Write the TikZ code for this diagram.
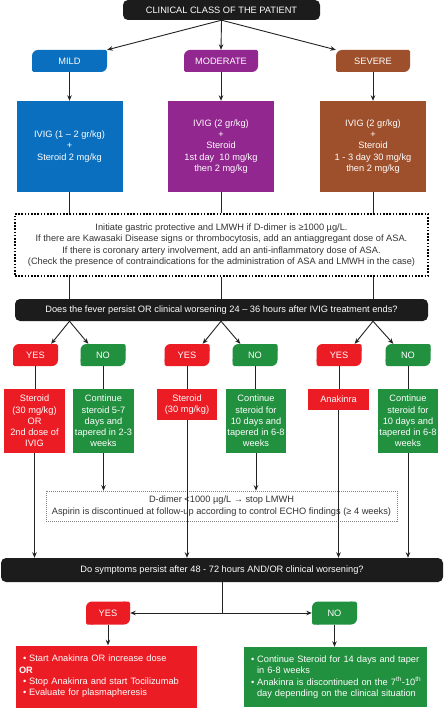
\documentclass[tikz,border=0pt]{standalone}
\usepackage{fontspec}
\setmainfont{Liberation Sans}
\usetikzlibrary{arrows.meta,calc}
\definecolor{cblue}{HTML}{0A6FBE}
\definecolor{cpurple}{HTML}{92278F}
\definecolor{cbrown}{HTML}{9E4F2B}
\definecolor{cred}{HTML}{EC1C24}
\definecolor{cgreen}{HTML}{21903F}
\definecolor{dk}{HTML}{1C1C1C}
\definecolor{lc}{HTML}{222222}
\definecolor{tx}{HTML}{333333}
\newcommand\leafbox[7]{%
  \fill[#6,rounded corners=6pt] ({#2-#4/2},{#3-#5/2}) rectangle ({#2+#4/2},{#3+#5/2});
  \fill[#6,rounded corners=1.5pt] ({#2+#4/2-8},{#3-#5/2}) rectangle ({#2+#4/2},{#3-#5/2+8});
  \fill[#6,rounded corners=1.5pt] ({#2-#4/2},{#3+#5/2-8}) rectangle ({#2-#4/2+8},{#3+#5/2});
  \node[leaflbl,minimum width=#4pt,minimum height=#5pt] (#1) at (#2,#3) {#7};}
\tikzset{
  ln/.style={draw=lc, line width=0.9pt},
  arr/.style={ln, -{Stealth[length=5.5pt,width=4.5pt]}},
  darkbox/.style={fill=dk, rounded corners=5pt, text=white, inner sep=0pt, align=center},
  colbox/.style={text=white, align=center, inner sep=0pt},
  leaflbl/.style={text=white, inner sep=0pt},
  dotbox/.style={draw=black, line width=1.6pt, dash pattern=on 1.6pt off 1.6pt, text=tx, align=center, inner sep=0pt},
  dashbox/.style={draw=gray, line width=0.6pt, dash pattern=on 1pt off 1pt, text=tx, align=center, inner sep=0pt},
  listbox/.style={text=white, align=left, inner ysep=0pt, minimum height=62pt}
}
\begin{document}
\begin{tikzpicture}[x=1pt,y=-1pt,font=\fontsize{9.25}{11.3}\selectfont]
\fill[white] (0,0) rectangle (447,711);
\useasboundingbox (0,0) rectangle (447,711);

\node[darkbox, minimum width=197pt, minimum height=20pt] (title) at (221.5,10) {CLINICAL CLASS OF THE PATIENT};

\leafbox{mild}{69.5}{61}{75}{22}{cblue}{MILD}
\leafbox{moderate}{221}{61}{74}{22}{cpurple}{MODERATE}
\leafbox{severe}{373}{61}{74}{22}{cbrown}{SEVERE}

\node[colbox, fill=cblue, minimum width=106pt, minimum height=91pt] (mildtx) at (69.5,146.5) {IVIG (1 – 2 gr/kg)\\+\\Steroid 2 mg/kg};
\node[colbox, fill=cpurple, minimum width=106pt, minimum height=91pt] (modtx) at (221,146.5) {IVIG (2 gr/kg)\\+\\Steroid\\1st day\ \ 10 mg/kg\\then 2 mg/kg};
\node[colbox, fill=cbrown, minimum width=106pt, minimum height=91pt] (sevtx) at (373,146.5) {IVIG (2 gr/kg)\\+\\Steroid\\1 - 3 day 30 mg/kg\\then 2 mg/kg};

\node[dotbox, minimum width=413pt, minimum height=62pt] (notes) at (221.5,245) {Initiate gastric protective and LMWH if D-dimer is ≥1000 µg/L.\\If there are Kawasaki Disease signs or thrombocytosis, add an antiaggregant dose of ASA.\\If there is coronary artery involvement, add an anti-inflammatory dose of ASA.\\(Check the presence of contraindications for the administration of ASA and LMWH in the case)};

\node[darkbox, minimum width=413pt, minimum height=22pt] (fever) at (221.5,310) {Does the fever persist OR clinical worsening 24 – 36 hours after IVIG treatment ends?};

\leafbox{yesA}{35.5}{355}{45}{22}{cred}{YES}
\leafbox{noA}{103}{355}{45}{22}{cgreen}{NO}
\leafbox{yesB}{187}{355}{45}{22}{cred}{YES}
\leafbox{noB}{255}{355}{45}{22}{cgreen}{NO}
\leafbox{yesC}{339}{355}{45}{22}{cred}{YES}
\leafbox{noC}{408}{355}{45}{22}{cgreen}{NO}

\node[colbox, fill=cred, minimum width=61pt, minimum height=64pt] (resA) at (34.5,421) {Steroid\\(30 mg/kg)\\OR\\2nd dose of\\IVIG};
\node[colbox, fill=cgreen, minimum width=61pt, minimum height=64pt] (conA) at (103.5,421) {Continue\\steroid 5-7\\days and\\tapered in 2-3\\weeks};
\node[colbox, fill=cred, minimum width=60pt, minimum height=31pt] (resB) at (187,404.5) {Steroid\\(30 mg/kg)};
\node[colbox, fill=cgreen, minimum width=60pt, minimum height=64pt] (conB) at (256,421) {Continue\\steroid for\\10 days and\\tapered in 6-8\\weeks};
\node[colbox, fill=cred, minimum width=61pt, minimum height=21pt] (resC) at (338.5,399.5) {Anakinra};
\node[colbox, fill=cgreen, minimum width=60pt, minimum height=64pt] (conC) at (408,421) {Continue\\steroid for\\10 days and\\tapered in 6-8\\weeks};

\node[dashbox, minimum width=351pt, minimum height=30pt] (stop) at (221.5,506) {D-dimer <1000 µg/L → stop LMWH\\Aspirin is discontinued at follow-up according to control ECHO findings (≥ 4 weeks)};

\node[darkbox, minimum width=442pt, minimum height=24pt] (persist) at (222,570) {Do symptoms persist after 48 - 72 hours AND/OR clinical worsening?};

\coordinate (split) at (222,613);
\leafbox{yesD}{108}{613}{44}{23}{cred}{YES}
\leafbox{noD}{334.5}{613}{45}{23}{cgreen}{NO}

\node[listbox, fill=cred, text width=175pt, inner xsep=3pt] (actYes) at (106.5,676.5) {\hspace*{4pt}•\hspace{3pt}Start Anakinra OR increase dose\\\textbf{OR}\\\hspace*{4pt}•\hspace{3pt}Stop Anakinra and start Tocilizumab\\\hspace*{4pt}•\hspace{3pt}Evaluate for plasmapheresis};
\node[listbox, fill=cgreen, text width=179pt, inner xsep=2pt, minimum height=60pt] (actNo) at (335.5,677) {\hspace*{5pt}•\hspace{3pt}Continue Steroid for 14 days and taper\\\hspace*{11pt}in 6-8 weeks\\\hspace*{5pt}•\hspace{3pt}Anakinra is discontinued on the 7\textsuperscript{th}-10\textsuperscript{th}\\\hspace*{11pt}day depending on the clinical situation};

% connectors
\draw[arr] (title.south) -- (mild.north east);
\draw[arr] (title.south) -- (moderate.north);
\draw[arr] (title.south) -- (severe.north west);
\draw[arr] (mild.south) -- (mild.south |- mildtx.north);
\draw[arr] (moderate.south) -- (moderate.south |- modtx.north);
\draw[arr] (severe.south) -- (severe.south |- sevtx.north);
\draw[ln] (mildtx.south) -- (mildtx.south |- notes.north);
\draw[ln] (modtx.south) -- (modtx.south |- notes.north);
\draw[ln] (sevtx.south) -- (sevtx.south |- notes.north);
\draw[ln] (notes.south -| mildtx.south) -- (fever.north -| mildtx.south);
\draw[ln] (notes.south -| modtx.south) -- (fever.north -| modtx.south);
\draw[ln] (notes.south -| sevtx.south) -- (fever.north -| sevtx.south);

\draw[arr] (fever.south -| mildtx.south) -- ([xshift=-7pt]yesA.north east);
\draw[arr] (fever.south -| mildtx.south) -- ([xshift=8pt]noA.north west);
\draw[arr] (fever.south -| modtx.south) -- ([xshift=-7pt]yesB.north east);
\draw[arr] (fever.south -| modtx.south) -- ([xshift=8pt]noB.north west);
\draw[arr] (fever.south -| sevtx.south) -- ([xshift=-7pt]yesC.north east);
\draw[arr] (fever.south -| sevtx.south) -- ([xshift=8pt]noC.north west);

\draw[ln] (yesA.south) -- (yesA.south |- resA.north);
\draw[ln] (noA.south) -- (noA.south |- conA.north);
\draw[ln] (yesB.south) -- (yesB.south |- resB.north);
\draw[ln] (noB.south) -- (noB.south |- conB.north);
\draw[ln] (yesC.south) -- (yesC.south |- resC.north);
\draw[ln] (noC.south) -- (noC.south |- conC.north);

\draw[arr] (resA.south) -- (resA.south |- persist.north);
\draw[arr] (conA.south) -- (conA.south |- stop.north);
\draw[arr] (resB.south) -- (resB.south |- persist.north);
\draw[arr] (conB.south) -- (conB.south |- stop.north);
\draw[arr] (resC.south) -- (resC.south |- persist.north);
\draw[arr] (conC.south) -- (conC.south |- persist.north);

\draw[ln] (persist.south) -- (split);
\draw[arr] (split) -- (yesD.east);
\draw[arr] (split) -- (noD.west);
\draw[arr] (yesD.south) -- (yesD.south |- actYes.north);
\draw[arr] (noD.south) -- (noD.south |- actNo.north);
\end{tikzpicture}
\end{document}
